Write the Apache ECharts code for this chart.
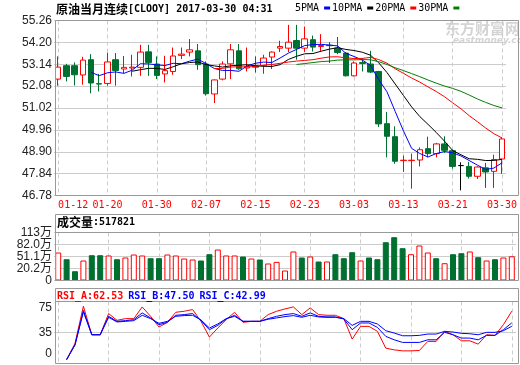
<!DOCTYPE html>
<html><head><meta charset="utf-8">
<script src="https://cdn.jsdelivr.net/npm/echarts@6/dist/echarts.min.js"></script>
<style>html,body{margin:0;padding:0;background:#fff}#c{width:520px;height:365px}</style>
</head><body><div id="c"></div>
<script>
const dates = ['01-12','01-13','01-16','01-17','01-18','01-19','01-20','01-23','01-24','01-25','01-26','01-27','01-30','01-31','02-01','02-02','02-03','02-06','02-07','02-08','02-09','02-10','02-13','02-14','02-15','02-16','02-17','02-20','02-21','02-22','02-23','02-24','02-27','02-28','03-01','03-02','03-03','03-06','03-07','03-08','03-09','03-10','03-13','03-14','03-15','03-16','03-17','03-20','03-21','03-22','03-23','03-24','03-27','03-28','03-30'];
const opens  = [52.42,53.07,53.07,52.62,53.36,52.20,52.21,53.36,52.91,52.96,52.99,53.74,53.15,52.67,52.79,53.57,53.73,53.79,53.15,51.70,52.42,53.16,53.79,52.96,53.08,53.07,53.49,53.92,53.92,54.29,53.92,54.33,54.00,54.06,53.92,53.68,52.58,53.22,53.15,52.79,50.26,49.63,48.47,48.47,48.50,49.05,48.81,49.28,48.95,48.23,48.19,47.71,48.12,47.95,48.55];
const closes = [53.00,52.55,52.63,53.34,52.23,52.18,53.25,52.84,52.99,53.00,53.73,53.23,52.60,52.83,53.54,53.63,53.84,53.12,51.71,52.38,53.15,53.84,52.92,53.03,53.00,53.44,53.73,54.00,54.21,53.92,54.37,53.97,54.05,54.04,53.71,52.58,53.20,53.18,52.76,50.25,49.65,48.44,48.49,48.49,49.00,48.81,49.28,48.97,48.19,48.23,47.71,48.16,47.92,48.52,49.52];
const highs  = [53.52,53.16,53.23,53.50,53.63,52.67,53.70,53.68,53.54,53.60,54.08,54.08,53.52,53.55,53.95,53.95,54.36,54.12,53.28,52.40,53.28,54.12,54.12,53.95,53.52,53.60,53.76,54.28,55.05,55.05,54.97,54.53,54.60,54.21,54.46,53.73,53.28,53.44,53.79,52.82,50.83,50.13,48.71,48.81,49.11,49.63,49.33,49.65,49.00,48.39,48.41,48.19,48.36,48.76,49.60];
const lows   = [52.10,52.31,52.11,52.15,51.73,51.82,52.10,52.10,52.71,52.55,52.58,52.58,52.42,52.26,52.63,53.39,53.52,52.87,51.62,51.26,52.36,52.42,52.87,52.79,52.74,52.68,52.91,53.73,53.73,53.36,53.73,53.76,53.76,53.20,53.63,52.55,52.55,52.79,52.71,50.10,48.63,48.32,47.92,47.11,48.19,48.63,48.63,48.84,48.08,47.03,47.60,47.58,47.15,47.15,47.83];
// volume in 万 (10k)
const volumes = [61.4,44.1,13.2,40.8,54.4,54.4,53.7,44.1,48.5,56.2,53.7,46.7,46.7,56.2,53.7,45.9,43.4,40.8,57.0,69.1,53.7,53.7,51.1,45.9,43.4,33.1,37.2,15.0,64.0,48.5,51.1,38.2,38.2,57.0,46.7,62.2,40.8,48.5,44.1,87.9,100.8,72.5,57.0,79.4,61.4,46.7,33.8,57.0,59.6,64.0,49.3,40.8,44.1,48.5,51.78];
const rsiA = ['-',0,21,68.9,32.1,32.1,59.4,50.7,52.9,52.9,68.0,55.9,42.1,48.1,61.1,62.4,64.6,49.4,29.1,40.8,51.6,61.1,48.1,49.4,49.4,58.1,62.4,65.4,68.0,58.1,66.7,58.1,57.2,57.2,52.9,26.5,42.9,42.9,36.5,14.8,12.6,11.3,11.3,11.8,23.5,23.5,36.5,32.1,24.3,24.3,20.0,32.1,31.3,45.1,62.53];
const rsiB = ['-',0,19,63.3,32.1,32.1,55.9,49.4,50.3,51.6,60.3,53.8,45.1,48.1,57.2,58.1,59.4,50.3,38.6,44.2,52.5,57.2,49.4,49.4,49.4,52.9,55.9,58.1,59.4,55.9,60.3,55.9,55.1,55.1,52.5,38.6,47.3,47.3,41.6,30.0,25.6,22.2,22.2,22.2,25.6,25.6,35.2,32.1,27.8,27.8,25.6,31.3,31.3,38.6,47.50];
const rsiC = ['-',0,19,61.6,32.1,32.1,54.6,48.6,49.4,50.3,57.2,52.9,46.8,49.4,55.9,56.8,57.2,51.2,40.8,46.0,52.9,55.9,49.4,49.4,49.4,52.1,53.8,55.5,56.8,54.6,57.2,55.1,54.6,54.6,52.9,44.2,49.4,49.4,46.0,37.3,34.3,30.8,30.8,31.3,33.0,33.0,36.5,35.6,33.9,33.4,32.1,35.2,35.2,37.3,42.99];
const priceTicks = [46.78,47.84,48.90,49.96,51.02,52.08,53.14,54.20,55.26];
const volTicks = [-10.7,20.2,51.1,82.0,112.9];
const rsiTicks = [0,35,75];
const maPeriods = [5,10,20,30];
const maNames = ['5PMA','10PMA','20PMA','30PMA'];
const maColors = ['#0000ff','#000000','#ff0000','#008000'];

const RED = '#ff0000', GREEN = '#007030', BLUE = '#0000ff';
const MONO = '"DejaVu Sans Mono"', SANS = '"Liberation Sans","Noto Sans CJK SC"', CJK = '"Noto Sans CJK SC"';

function ma(n) {
  return closes.map((c, i) => {
    if (i < n - 1) return '-';
    let s = 0; for (let k = i - n + 1; k <= i; k++) s += closes[k];
    return +(s / n).toFixed(3);
  });
}

const L = 54, W = 462;
const grids = [
  {left: L, width: W, top: 20.5, height: 175},
  {left: L, width: W, top: 232.5, height: 48},
  {left: L, width: W, top: 301.5, height: 62}
];
const frames = [[20.5,175],[214.5,18],[232.5,48],[288.5,13],[301.5,62]];
const gridList = grids.slice();
frames.forEach(f => gridList.push({left: 55.5, width: 463, top: f[0], height: f[1], show: true, borderColor: '#999', borderWidth: 1, backgroundColor: 'transparent', z: 5}));

const dashed = {color: '#ccc', type: [4, 3], width: 1};
const xAxes = [0,1,2].map(g => ({
  type: 'category', gridIndex: g, data: dates, boundaryGap: true,
  axisLine: {show: false}, axisTick: {show: false},
  axisLabel: g === 0 ? {interval: (i) => i % 6 === 0, color: RED, fontFamily: MONO, fontSize: 10, margin: 5, alignMinLabel: 'left'} : {show: false},
  splitLine: {show: true, interval: (i) => i % 6 === 0, alignWithLabel: true, lineStyle: dashed}
}));
const yAxes = [
  {type: 'value', gridIndex: 0, min: 46.78, max: 55.26,
   axisLine: {show: false}, axisTick: {show: false, customValues: priceTicks},
   axisLabel: {customValues: priceTicks, formatter: v => v.toFixed(2), color: '#222', fontSize: 12, fontFamily: SANS, margin: 2},
   splitLine: {show: true, lineStyle: {color: '#ccc', width: 1}}},
  {type: 'value', gridIndex: 1, min: -10.7, max: 112.9, startValue: -10.7,
   axisLine: {show: false}, axisTick: {show: false, customValues: volTicks},
   axisLabel: {customValues: volTicks, formatter: v => v < 0 ? '0' : (v > 100 ? v.toFixed(0) : v.toFixed(1)) + '万', color: '#222', fontSize: 12, fontFamily: SANS, margin: 2},
   splitLine: {show: true, lineStyle: {color: '#ccc', width: 1}}},
  {type: 'value', gridIndex: 2, min: -5, max: 75,
   axisLine: {show: false}, axisTick: {show: false, customValues: [35]},
   axisLabel: {customValues: rsiTicks, verticalAlignMinLabel: 'bottom', verticalAlignMaxLabel: 'top', color: '#222', fontSize: 12, fontFamily: SANS, margin: 2},
   splitLine: {show: true, lineStyle: {color: '#ccc', width: 1}}}
];
frames.forEach((f, k) => {
  xAxes.push({type: 'value', gridIndex: 3 + k, show: false});
  yAxes.push({type: 'value', gridIndex: 3 + k, show: false});
});

const candleData = opens.map((o, i) => [o, closes[i], lows[i], highs[i]]);
const volData = volumes.map((v, i) => {
  const up = closes[i] >= opens[i];
  return {value: v, itemStyle: up ? {color: '#fff', borderColor: RED, borderWidth: 1} : {color: GREEN, borderColor: GREEN, borderWidth: 1}};
});

const series = [
  {type: 'candlestick', name: 'K', xAxisIndex: 0, yAxisIndex: 0, data: candleData, barWidth: 6,
   itemStyle: {color: '#fff', color0: GREEN, borderColor: RED, borderColor0: GREEN, borderColorDoji: '#000', borderWidth: 1}}
];
maPeriods.forEach((n, k) => series.push({
  type: 'line', name: maNames[k], xAxisIndex: 0, yAxisIndex: 0, data: ma(n), symbol: 'none',
  lineStyle: {color: maColors[k], width: 1}, itemStyle: {color: maColors[k]}, z: 3
}));
series.push({type: 'bar', name: 'VOL', xAxisIndex: 1, yAxisIndex: 1, data: volData, barWidth: 6});
[[rsiA, RED], [rsiB, BLUE], [rsiC, BLUE]].forEach((r, k) => series.push({
  type: 'line', name: 'RSI' + k, xAxisIndex: 2, yAxisIndex: 2, data: r[0], symbol: 'none',
  lineStyle: {color: r[1], width: 1}
}));

const chart = echarts.init(document.getElementById('c'), null, {renderer: 'canvas'});
chart.setOption({
  animation: false,
  backgroundColor: '#fff',
  title: [
    {text: '{c|原油当月连续}{m|[CLOOY] 2017-03-30 04:31}', left: 56, top: 3, padding: 0,
     textStyle: {rich: {c: {fontFamily: CJK, fontSize: 12, color: '#000', lineHeight: 13}, m: {fontFamily: MONO, fontSize: 10, color: '#000', lineHeight: 13}}}},
    {text: '{c|成交量}{m|:517821}', left: 57, top: 216, padding: 0,
     textStyle: {rich: {c: {fontFamily: CJK, fontSize: 12, color: '#000', lineHeight: 13}, m: {fontFamily: MONO, fontSize: 10, color: '#000', lineHeight: 13}}}},
    {text: '{a|RSI_A:62.53} {b|RSI_B:47.50} {b|RSI_C:42.99}', left: 57, top: 287, padding: 0,
     textStyle: {rich: {a: {fontFamily: MONO, fontSize: 10, color: RED, lineHeight: 13}, b: {fontFamily: MONO, fontSize: 10, color: BLUE, lineHeight: 13}}}}
  ],
  legend: {data: maNames, left: 295, top: 3, padding: 0, align: 'right', icon: 'rect', itemWidth: 6, itemHeight: 3, itemGap: 2,
    textStyle: {fontFamily: MONO, fontSize: 10, color: '#000'}, selectedMode: false},
  graphic: [
    {type: 'text', left: 445, top: 21, z: 0, style: {text: '东方财富网', font: 'bold 15px "Noto Sans CJK SC"', fill: '#d4d4d4'}},
    {type: 'text', left: 453, top: 36, z: 0, style: {text: 'eastmoney.com', font: 'italic bold 9px "DejaVu Sans"', fill: '#d4d4d4'}}
  ],
  grid: gridList,
  xAxis: xAxes,
  yAxis: yAxes,
  series: series
});
</script></body></html>
